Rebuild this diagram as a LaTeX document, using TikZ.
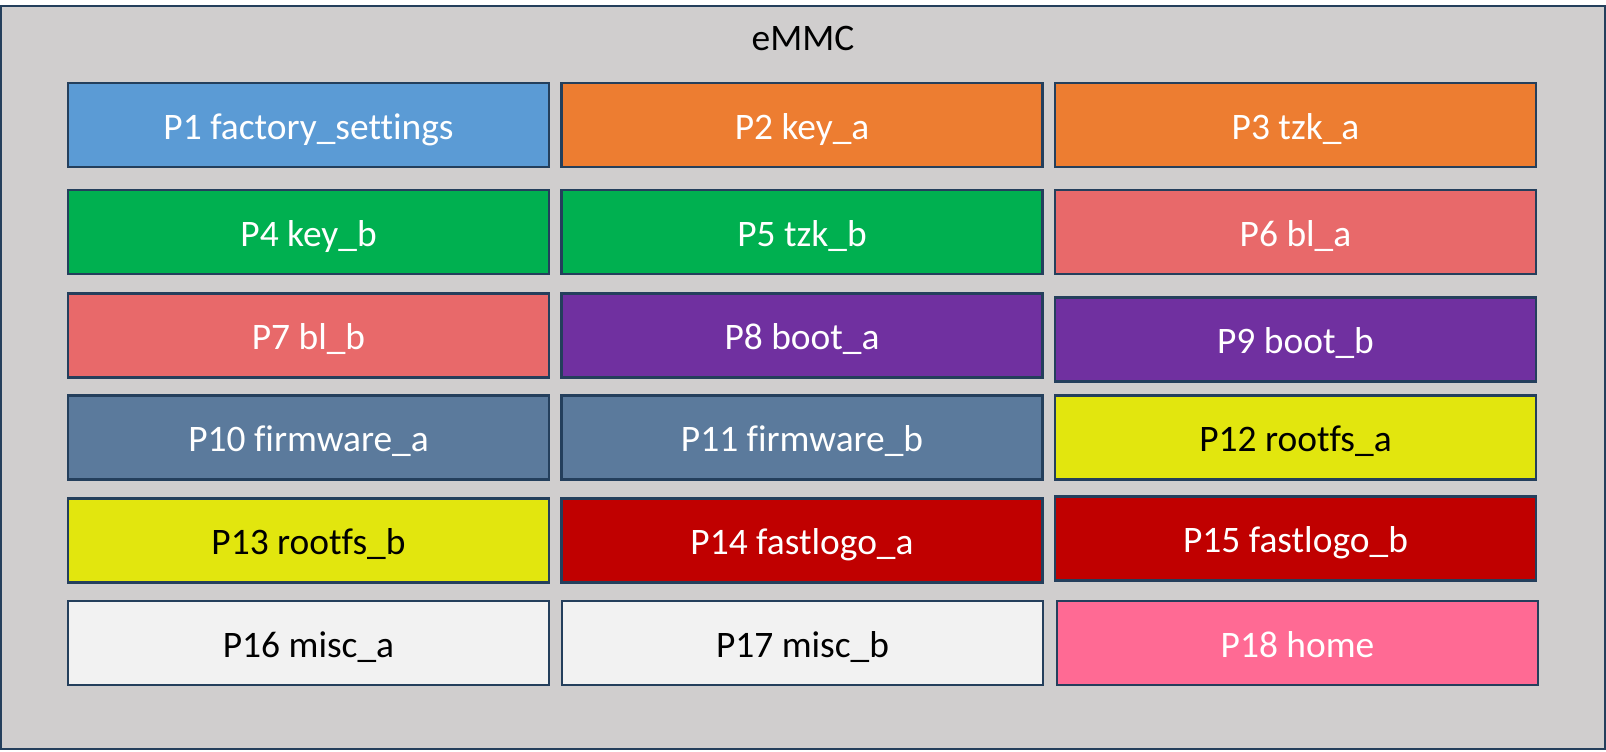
\documentclass[tikz,border=0pt]{standalone}
\usepackage{fontspec}
\setmainfont{Carlito}[Ligatures=NoCommon]
\usepackage{xcolor}

\definecolor{emmcgray}{HTML}{D0CECE}
\definecolor{edgeblue}{HTML}{243F5C}
\definecolor{cblue}{HTML}{5B9BD5}
\definecolor{corange}{HTML}{ED7D31}
\definecolor{cgreen}{HTML}{00B050}
\definecolor{csalmon}{HTML}{E8696A}
\definecolor{cpurple}{HTML}{7030A0}
\definecolor{cslate}{HTML}{5B7A9C}
\definecolor{cyellow}{HTML}{E2E60E}
\definecolor{cred}{HTML}{C00000}
\definecolor{cwhite}{HTML}{F2F2F2}
\definecolor{cpink}{HTML}{FF6A94}

\tikzset{
  part/.style={draw=edgeblue, line width=1.6pt, minimum width=9.62cm,
    minimum height=1.68cm, inner sep=0pt, text height=16.2pt, text depth=0pt,
    font=\fontsize{21.3}{25}\selectfont}
}

\begin{document}
\begin{tikzpicture}[x=0.02cm, y=-0.02cm]
				\useasboundingbox (0,0) rectangle (1606,751);
				\draw[fill=emmcgray, draw=edgeblue, line width=1.6pt] (1,6) rectangle (1605,749);
				\node[font=\fontsize{21.3}{25}\selectfont] (title) at (803,38) {eMMC};
				\foreach \n/\x/\y/\fc/\tc/\label in {
					1/308.5/125/cblue/white/P1 factory\_settings,
					2/802/125/corange/white/P2 key\_a,
					3/1295.5/125/corange/white/P3 tzk\_a,
					4/308.5/232/cgreen/white/P4 key\_b,
					5/802/232/cgreen/white/P5 tzk\_b,
					6/1295.5/232/csalmon/white/P6 bl\_a,
					7/308.5/335.5/csalmon/white/P7 bl\_b,
					8/802/335.5/cpurple/white/P8 boot\_a,
					9/1295.5/339.5/cpurple/white/P9 boot\_b,
					10/308.5/437.5/cslate/white/P10 firmware\_a,
					11/802/437.5/cslate/white/P11 firmware\_b,
					12/1295.5/437.5/cyellow/black/P12 rootfs\_a,
					13/308.5/540.5/cyellow/black/P13 rootfs\_b,
					14/802/540.5/cred/white/P14 fastlogo\_a,
					15/1295.5/538.5/cred/white/P15 fastlogo\_b,
					16/308.5/643/cwhite/black/P16 misc\_a,
					17/802.5/643/cwhite/black/P17 misc\_b,
					18/1297.5/643/cpink/white/P18 home
				}
				{
					\node[part, fill=\fc, text=\tc] (p\n) at (\x,\y) {\label};
				}
			\end{tikzpicture}
\end{document}
